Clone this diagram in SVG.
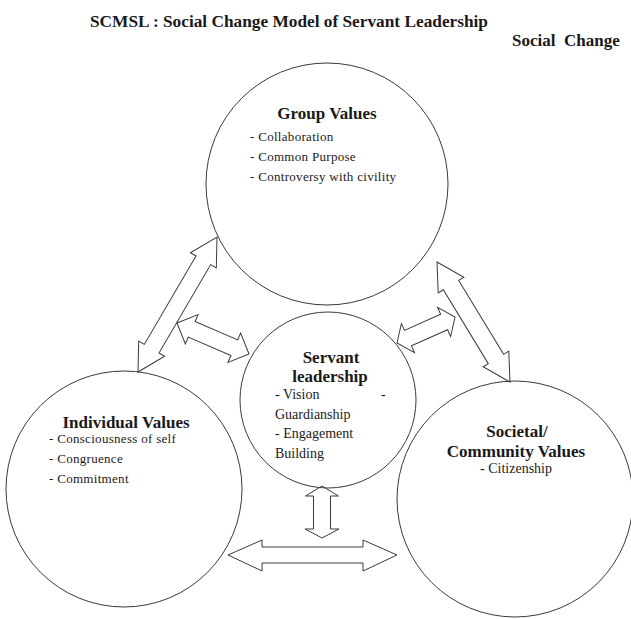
<svg xmlns="http://www.w3.org/2000/svg" width="631" height="619" viewBox="0 0 631 619">
<style>
  .bg { fill: #ffffff; }
  .node { fill: none; stroke: #3a3a3a; stroke-width: 1; }
  .arrow { fill: #ffffff; stroke: #3a3a3a; stroke-width: 1; stroke-linejoin: miter; }
  text { font-family: 'Liberation Serif', 'DejaVu Serif', serif; fill: #1a1a1a; }
  .head { font-weight: bold; font-size: 17px; }
  .title { font-weight: bold; font-size: 17.3px; }
  .item { font-size: 13px; letter-spacing: 0.3px; }
  .item14 { font-size: 14px; }
</style>
<rect class="bg" x="0" y="0" width="631" height="619"/>

<text class="title" x="90" y="27">SCMSL : Social Change Model of Servant Leadership</text>
<text class="head" x="512" y="46" xml:space="preserve">Social  Change</text>

<g id="connectors">
  <path class="arrow" transform="translate(138,372) rotate(-59.66)" d="M0,0 L27,-15 L27,-8.5 L129.4,-8.5 L129.4,-15 L156.4,0 L129.4,15 L129.4,8.5 L27,8.5 L27,15 Z"/>
  <path class="arrow" transform="translate(177,323) rotate(23.3)" d="M0,0 L16,-16 L16,-8.5 L62.4,-8.5 L62.4,-16 L78.4,0 L62.4,16 L62.4,8.5 L16,8.5 L16,16 Z"/>
  <path class="arrow" transform="translate(437,262) rotate(58.7)" d="M0,0 L27,-15 L27,-9 L113.5,-9 L113.5,-15 L140.5,0 L113.5,15 L113.5,9 L27,9 L27,15 Z"/>
  <path class="arrow" transform="translate(397,343) rotate(-24.1)" d="M0,0 L12,-16 L12,-8.5 L51.6,-8.5 L51.6,-16 L63.6,0 L51.6,16 L51.6,8.5 L12,8.5 L12,16 Z"/>
  <polygon class="arrow" points="322,486 338.5,496 330.5,496 330.5,529 339,529 322,538 305,529 313.5,529 313.5,496 305.5,496"/>
  <polygon class="arrow" points="228,555 262,540 262,547 363,547 363,540 397,555 363,571 363,563 262,563 262,571"/>
</g>

<g id="group-values">
  <circle class="node" cx="327" cy="184" r="121"/>
  <text class="head" x="327" y="119" text-anchor="middle">Group Values</text>
  <text class="item" x="250" y="141">- Collaboration</text>
  <text class="item" x="250" y="161">- Common Purpose</text>
  <text class="item" x="250" y="181">- Controversy with civility</text>
</g>

<g id="individual-values">
  <circle class="node" cx="124" cy="489" r="118"/>
  <text class="head" x="126" y="428" text-anchor="middle">Individual Values</text>
  <text class="item" x="49" y="443">- Consciousness of self</text>
  <text class="item" x="49" y="463">- Congruence</text>
  <text class="item" x="49" y="483">- Commitment</text>
</g>

<g id="societal-values">
  <circle class="node" cx="515" cy="499" r="118"/>
  <text class="head" x="517" y="437" text-anchor="middle">Societal/</text>
  <text class="head" x="516" y="457" text-anchor="middle">Community Values</text>
  <text class="item14" x="516" y="473" text-anchor="middle">- Citizenship</text>
</g>

<g id="servant-leadership">
  <circle class="node" cx="328" cy="400" r="88"/>
  <text class="head" x="331" y="363" text-anchor="middle">Servant</text>
  <text class="head" x="330" y="382" text-anchor="middle">leadership</text>
  <text class="item14" y="399"><tspan x="275">- Vision</tspan><tspan x="381">-</tspan></text>
  <text class="item14" x="275" y="419">Guardianship</text>
  <text class="item14" x="275" y="438">- Engagement</text>
  <text class="item14" x="275" y="458">Building</text>
</g>
</svg>
